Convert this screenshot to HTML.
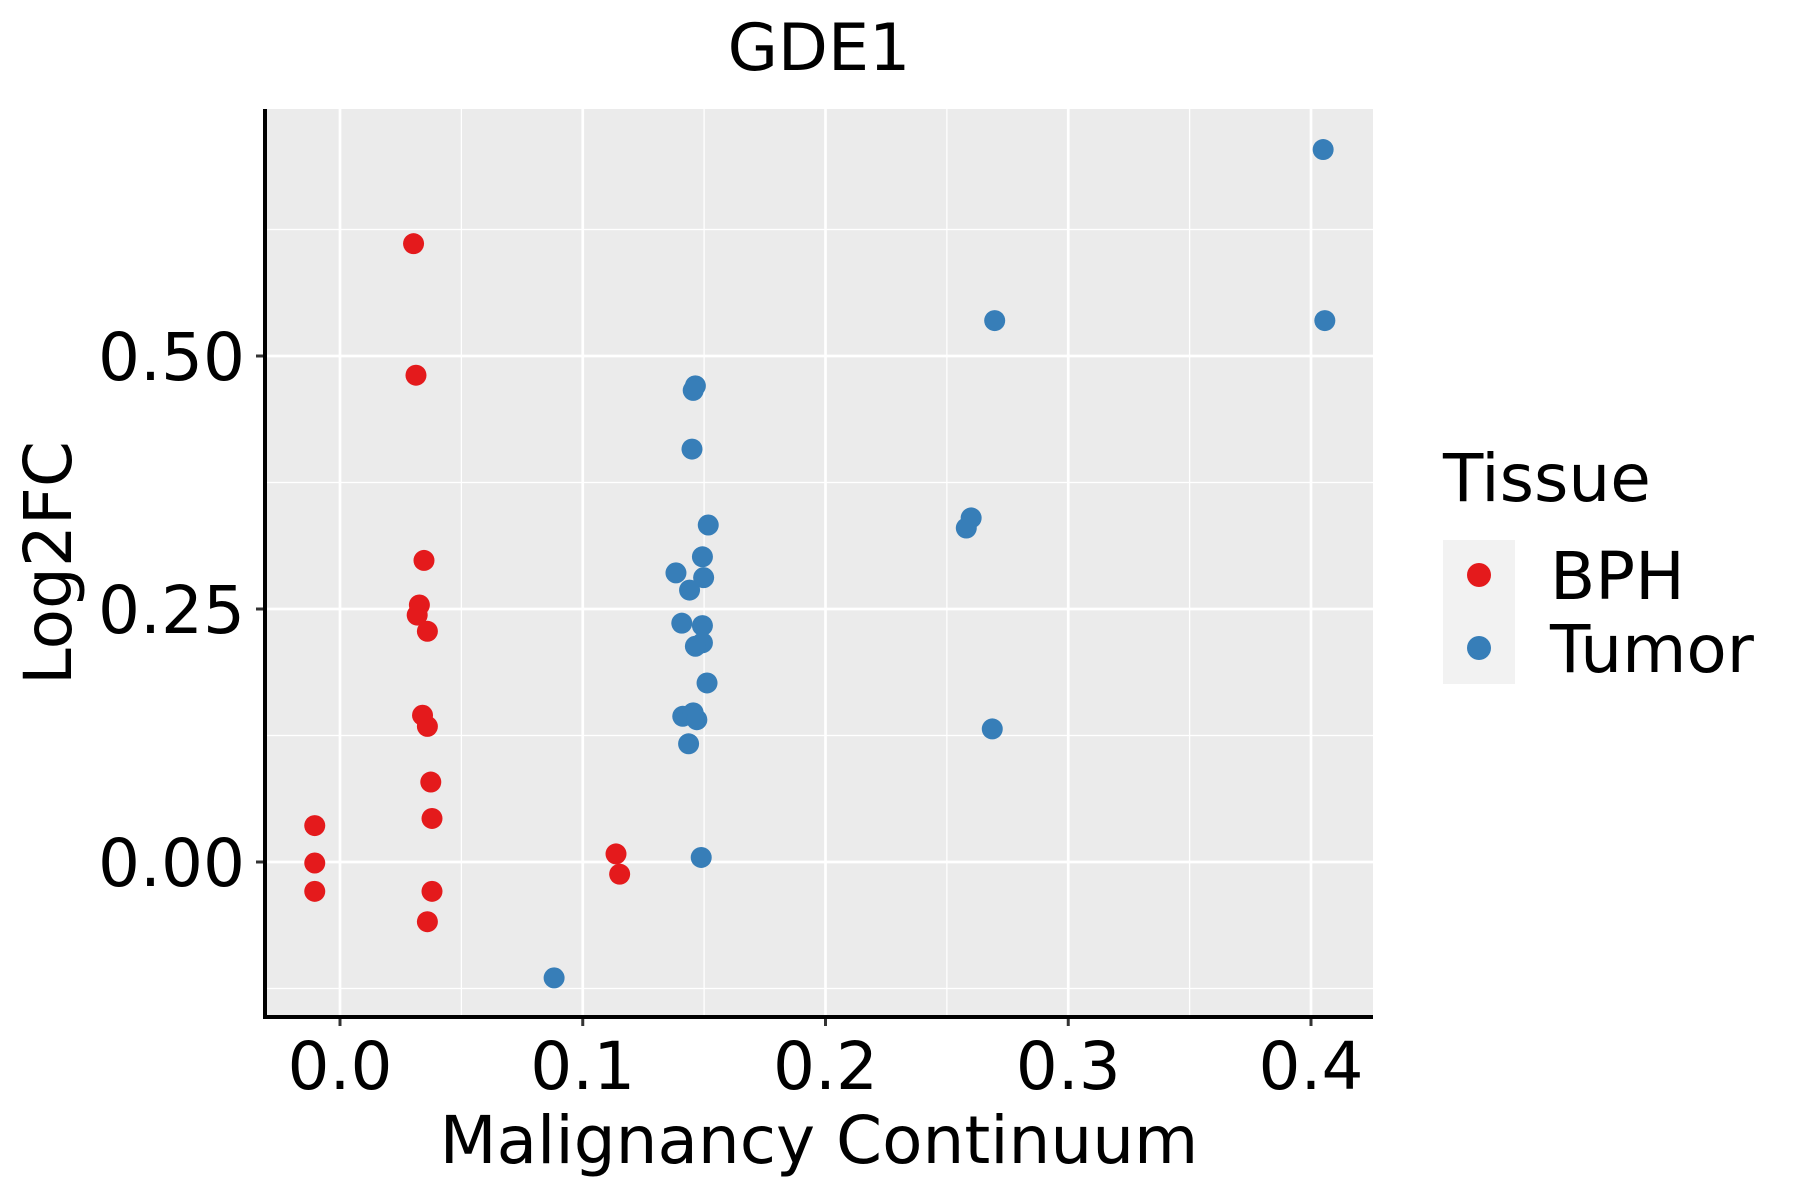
<!DOCTYPE html>
<html><head><meta charset="utf-8"><style>
html,body{margin:0;padding:0;background:#fff;}
svg{display:block;font-family:"DejaVu Sans","Liberation Sans",sans-serif;}
</style></head><body>
<svg id="chart" width="1800" height="1200" viewBox="0 0 1800 1200">
<rect x="265" y="109" width="1108" height="908" fill="#ebebeb"/>
<g id="grid"></g>
<g id="points"></g>
<g id="axes"></g>
<text x="819" y="70" font-size="65" text-anchor="middle">GDE1</text>
<text x="819" y="1163" font-size="66" text-anchor="middle">Malignancy Continuum</text>
<text transform="translate(71,563) rotate(-90)" font-size="66" text-anchor="middle">Log2FC</text>
<g>
<text x="1443" y="501" font-size="66">Tissue</text>
<rect x="1443" y="540" width="72" height="144" fill="#f2f2f2"/>
<circle cx="1479" cy="575" r="12" fill="#e41a1c"/>
<circle cx="1479" cy="648" r="12" fill="#377eb8"/>
<text x="1550" y="599" font-size="66">BPH</text>
<text x="1550" y="672" font-size="66">Tumor</text>
</g>
</svg>
<script>
const xTicks = [0.0, 0.1, 0.2, 0.3, 0.4];
const xTickLabels = ["0.0", "0.1", "0.2", "0.3", "0.4"];
const yTicks = [0.0, 0.25, 0.5];
const yTickLabels = ["0.00", "0.25", "0.50"];
const xMinor = [0.05, 0.15, 0.25, 0.35];
const yMinor = [-0.125, 0.125, 0.375, 0.625];
const bphX = [0.0303,0.0313,0.0346,0.0327,0.0318,0.036,0.034,0.036,0.0374,0.0379,0.0379,0.036,-0.0104,-0.0104,-0.0104,0.1137,0.1152];
const bphY = [0.611,0.481,0.298,0.254,0.244,0.228,0.145,0.134,0.079,0.043,-0.029,-0.059,0.036,-0.001,-0.029,0.008,-0.012];
const tumorX = [0.405,0.4057,0.2697,0.260,0.258,0.2687,0.1464,0.1455,0.145,0.1517,0.1493,0.1498,0.1384,0.144,0.1408,0.1493,0.1493,0.1464,0.1512,0.1412,0.1455,0.147,0.1436,0.1488,0.0882];
const tumorY = [0.704,0.535,0.535,0.340,0.330,0.1315,0.4705,0.466,0.408,0.333,0.3016,0.281,0.2857,0.2687,0.236,0.2336,0.2166,0.2132,0.1769,0.144,0.1474,0.1406,0.1168,0.0045,-0.1145];

const NS = "http://www.w3.org/2000/svg";
const PL = 265, PR = 1373, PT = 109, PB = 1017;
function sx(v){ return 340 + v * 2427.5; }
function sy(v){ return 862 - v * 1012; }
function mk(tag, attrs, parent){
  const e = document.createElementNS(NS, tag);
  for (const k in attrs) e.setAttribute(k, attrs[k]);
  parent.appendChild(e);
  return e;
}
const grid = document.getElementById('grid');
xMinor.forEach(v => {
  const l = mk('line', {x1:sx(v), x2:sx(v), y1:PT, y2:PB, stroke:'#fff', 'stroke-width':1.3}, grid);
  
  
});
yMinor.forEach(v => {
  const l = mk('line', {x1:PL, x2:PR, y1:sy(v), y2:sy(v), stroke:'#fff', 'stroke-width':1.3}, grid);
  
  
});
xTicks.forEach(v => {
  const l = mk('line', {x1:sx(v), x2:sx(v), y1:PT, y2:PB, stroke:'#fff', 'stroke-width':2.7}, grid);
  
  
});
yTicks.forEach(v => {
  const l = mk('line', {x1:PL, x2:PR, y1:sy(v), y2:sy(v), stroke:'#fff', 'stroke-width':2.7}, grid);
  
  
});
const pts = document.getElementById('points');
bphX.forEach((x, i) => {
  const c = mk('circle', {cx:sx(x), cy:sy(bphY[i]), r:10.5, fill:'#e41a1c'}, pts);
  
  
});
tumorX.forEach((x, i) => {
  const c = mk('circle', {cx:sx(x), cy:sy(tumorY[i]), r:10.5, fill:'#377eb8'}, pts);
  
  
});
const axes = document.getElementById('axes');
xTicks.forEach((v, i) => {
  const t = mk('line', {x1:sx(v), x2:sx(v), y1:PB, y2:PB+9, stroke:'#333', 'stroke-width':3}, axes);
  
  
  const lb = mk('text', {x:sx(v), y:1089, 'font-size':66, 'text-anchor':'middle', fill:'#000'}, axes);
  lb.textContent = xTickLabels[i];
  
  
});
yTicks.forEach((v, i) => {
  const t = mk('line', {x1:PL-9, x2:PL, y1:sy(v), y2:sy(v), stroke:'#333', 'stroke-width':3}, axes);
  
  
  const lb = mk('text', {x:245, y:sy(v)+24, 'font-size':66, 'text-anchor':'end', fill:'#000'}, axes);
  lb.textContent = yTickLabels[i];
  
  
});
const xa = mk('line', {x1:PL-2, x2:PR, y1:PB, y2:PB, stroke:'#000', 'stroke-width':4}, axes);


const ya = mk('line', {x1:PL, x2:PL, y1:PT, y2:PB+2, stroke:'#000', 'stroke-width':4}, axes);


</script>
</body></html>
